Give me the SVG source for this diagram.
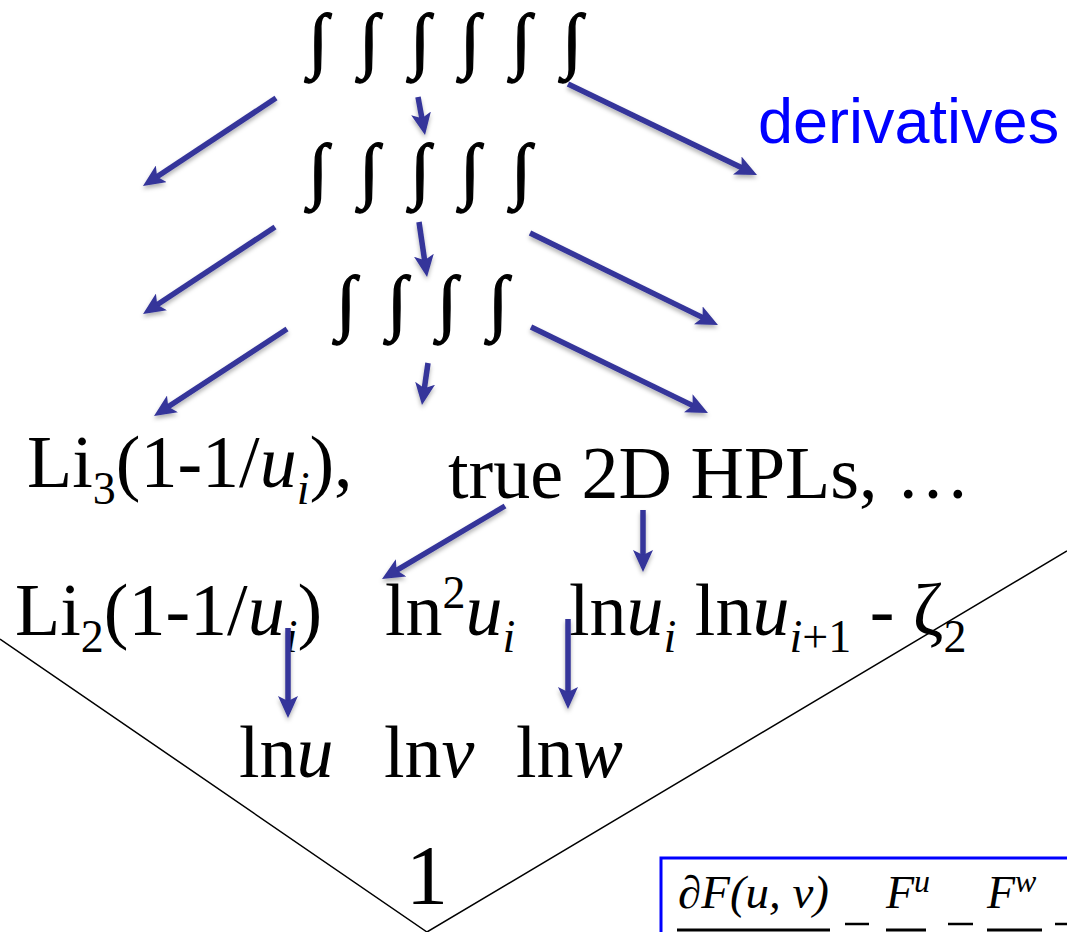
<svg xmlns="http://www.w3.org/2000/svg" width="1067" height="932" viewBox="0 0 1067 932">
<defs>
<style>
.t{font-family:"Liberation Serif","Times New Roman",serif;fill:#000;}
.m{font-size:74px;}
.int{font-size:72px;text-anchor:middle;stroke:#000;stroke-width:1.3;}
.it{font-style:italic;}
.conn line{stroke:#34349a;stroke-width:5.5;marker-end:url(#ah);filter:url(#sh);}
.v{stroke:#000;stroke-width:1.5;fill:none;}
.box text{font-family:"Liberation Serif","Times New Roman",serif;font-style:italic;font-size:46px;}
</style>
<marker id="ah" markerUnits="userSpaceOnUse" markerWidth="22" markerHeight="20" viewBox="0 0 22 20" refX="12" refY="10" orient="auto">
<path d="M0,0 L22,10 L0,20 L5,10 Z" fill="#34349a"/>
</marker>
<filter id="sh" filterUnits="userSpaceOnUse" x="0" y="0" width="1067" height="932">
<feDropShadow dx="0" dy="3" stdDeviation="2" flood-color="#000" flood-opacity="0.3"/>
</filter>
</defs>
<rect width="1067" height="932" fill="#fff"/>

<g id="vee">
<polyline class="v" points="0,639 427,932 1067,551"/>
</g>

<g id="row1" class="t int">
<text x="318" y="64">∫</text><text x="369" y="64">∫</text><text x="420" y="64">∫</text><text x="470" y="64">∫</text><text x="521" y="64">∫</text><text x="572" y="64">∫</text>
</g>
<g id="row2" class="t int">
<text x="318" y="194">∫</text><text x="369" y="194">∫</text><text x="420" y="194">∫</text><text x="470" y="194">∫</text><text x="521" y="194">∫</text>
</g>
<g id="row3" class="t int">
<text x="346" y="326">∫</text><text x="397" y="326">∫</text><text x="447" y="326">∫</text><text x="498" y="326">∫</text>
</g>

<g id="derivatives">
<text x="758" y="143" style="font-family:'Liberation Sans',Arial,sans-serif;font-size:63px;fill:#0000ff">derivatives</text>
</g>

<g id="li3">
<text class="t m" x="27" y="487">Li<tspan font-size="46" dy="17">3</tspan><tspan dy="-17">(1-1/</tspan><tspan class="it">u</tspan><tspan class="it" font-size="46" dy="17">i</tspan><tspan dy="-17">),</tspan></text>
</g>
<g id="hpls">
<text class="t m" x="448" y="498">true 2D HPLs, …</text>
</g>

<g id="li2">
<text class="t m" x="15" y="635">Li<tspan font-size="46" dy="17">2</tspan><tspan dy="-17">(1-1/</tspan><tspan class="it">u</tspan><tspan class="it" font-size="46" dy="17">i</tspan><tspan dy="-17">)</tspan></text>
</g>
<g id="ln2">
<text class="t m" x="385" y="635">ln<tspan font-size="46" dy="-27">2</tspan><tspan class="it" dy="27">u</tspan><tspan class="it" font-size="46" dy="17">i</tspan></text>
</g>
<g id="lnln">
<text class="t m" x="569" y="635">ln<tspan class="it">u</tspan><tspan class="it" font-size="46" dy="17">i</tspan><tspan dy="-17"> ln</tspan><tspan class="it">u</tspan><tspan font-size="46" dy="17"><tspan class="it">i</tspan>+1</tspan><tspan dy="-17"> - ζ</tspan><tspan font-size="46" dy="17">2</tspan></text>
</g>

<g id="logs">
<text class="t m" x="239" y="777">ln<tspan class="it">u</tspan></text>
<text class="t m" x="384" y="777">ln<tspan class="it">v</tspan></text>
<text class="t m" x="516" y="777">ln<tspan class="it">w</tspan></text>
</g>

<g id="one">
<text class="t" x="406" y="904" font-size="84">1</text>
</g>

<g id="box" class="box">
<rect x="661" y="858" width="430" height="100" fill="none" stroke="#0000ff" stroke-width="3"/>
<text x="678" y="908" textLength="151" lengthAdjust="spacingAndGlyphs">∂F(<tspan>u</tspan>, <tspan>v</tspan>)</text>
<text x="886" y="908">F<tspan font-size="32" dy="-16">u</tspan></text>
<text x="987" y="908">F<tspan font-size="32" dy="-16">w</tspan></text>
<g stroke="#000" stroke-width="3">
<line x1="677" y1="930" x2="830" y2="930"/>
<line x1="886" y1="930" x2="926" y2="930"/>
<line x1="987" y1="930" x2="1042" y2="930"/>
<line x1="845" y1="924" x2="869" y2="924" stroke-width="2.5"/>
<line x1="948" y1="924" x2="973" y2="924" stroke-width="2.5"/>
<line x1="1055" y1="924" x2="1067" y2="924" stroke-width="2.5"/>
</g>
</g>

<g id="connectors" class="conn">
<line x1="276" y1="98" x2="151.3" y2="180.5"/>
<line x1="418" y1="97" x2="423.2" y2="125.2"/>
<line x1="568" y1="84" x2="748" y2="170.7"/>
<line x1="275" y1="227" x2="151.4" y2="308.5"/>
<line x1="419" y1="222" x2="425.6" y2="267.1"/>
<line x1="530" y1="233" x2="709" y2="320.6"/>
<line x1="287" y1="329" x2="162.4" y2="410.5"/>
<line x1="428" y1="363" x2="423.4" y2="395.1"/>
<line x1="531" y1="327" x2="699" y2="408.6"/>
<line x1="505" y1="506" x2="390.6" y2="573.9"/>
<line x1="643" y1="510" x2="643" y2="562"/>
<line x1="288" y1="628" x2="288" y2="708"/>
<line x1="568" y1="619" x2="568" y2="699"/>
</g>
</svg>
